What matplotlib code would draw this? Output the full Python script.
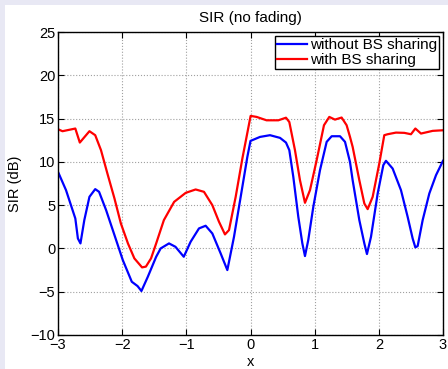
import matplotlib
matplotlib.use("Agg")
import matplotlib.pyplot as plt
from matplotlib.patches import Rectangle

plt.rcParams['font.family'] = ['Liberation Sans', 'DejaVu Sans']

x_without = [-3.00, -2.875, -2.73, -2.69, -2.65, -2.59, -2.51, -2.42, -2.36, -2.25,
             -2.12, -1.99, -1.85, -1.76, -1.70, -1.60, -1.47, -1.40, -1.27, -1.17,
             -1.04, -0.933, -0.803, -0.699, -0.595, -0.465, -0.361, -0.257, -0.153, -0.049,
             0.00, 0.148, 0.304, 0.46, 0.553, 0.605, 0.667, 0.745, 0.808, 0.849,
             0.90, 0.979, 1.083, 1.187, 1.265, 1.395, 1.473, 1.55, 1.592, 1.696,
             1.774, 1.815, 1.878, 1.982, 2.07, 2.111, 2.215, 2.345, 2.449, 2.527,
             2.569, 2.605, 2.683, 2.787, 2.891, 3.00]
y_without = [8.85, 6.73, 3.46, 1.15, 0.58, 3.27, 5.96, 6.85, 6.54, 4.42,
             1.54, -1.35, -3.85, -4.35, -4.92, -3.27, -0.96, 0.0, 0.58, 0.19,
             -0.96, 0.77, 2.31, 2.62, 1.73, -0.58, -2.5, 1.35, 5.96, 10.58,
             12.42, 12.88, 13.08, 12.77, 12.23, 11.35, 8.27, 3.65, 0.58, -0.88,
             0.96, 4.81, 9.04, 12.31, 12.96, 12.96, 12.31, 10.0, 7.88, 3.27,
             0.58, -0.65, 1.35, 6.35, 9.62, 10.12, 9.23, 6.73, 3.65, 1.15,
             0.12, 0.27, 3.27, 6.35, 8.46, 10.12]

x_with = [-3.00, -2.93, -2.73, -2.66, -2.51, -2.42, -2.33, -2.23, -2.12, -2.02,
          -1.91, -1.81, -1.69, -1.63, -1.55, -1.47, -1.35, -1.19, -1.01, -0.855,
          -0.725, -0.595, -0.491, -0.398, -0.335, -0.231, -0.127, 0.002, 0.096, 0.25,
          0.434, 0.553, 0.605, 0.693, 0.771, 0.849, 0.927, 1.031, 1.145, 1.228,
          1.316, 1.42, 1.498, 1.55, 1.592, 1.696, 1.774, 1.826, 1.904, 2.007,
          2.085, 2.137, 2.267, 2.397, 2.501, 2.569, 2.657, 2.839, 3.00]
y_with = [13.77, 13.54, 13.85, 12.23, 13.54, 13.08, 11.35, 8.65, 5.77, 2.88,
          0.58, -1.15, -2.19, -2.1, -1.15, 0.58, 3.27, 5.38, 6.42, 6.81,
          6.54, 5.0, 3.08, 1.62, 2.12, 5.96, 10.38, 15.31, 15.19, 14.8,
          14.8, 15.1, 14.6, 11.35, 7.88, 5.27, 6.73, 10.19, 14.23, 15.19,
          14.88, 15.12, 14.23, 12.9, 11.73, 7.88, 5.19, 4.54, 5.96, 9.81,
          13.08, 13.19, 13.38, 13.35, 13.19, 13.85, 13.27, 13.58, 13.65]

x_ticks = [-3, -2, -1, 0, 1, 2, 3]
y_ticks = [-10, -5, 0, 5, 10, 15, 20, 25]

fig = plt.figure(figsize=(4.48, 3.69), dpi=100, facecolor='#e8e8f4')
fig.patches.append(Rectangle((5/448, 0), 1, 1 - 5/369, transform=fig.transFigure,
                             facecolor='white', edgecolor='none', zorder=-1))
ax = fig.add_axes([58/448, 34/369, 385/448, 303/369])

ax.plot(x_without, y_without, color='#0000ff', lw=1.6, label='without BS sharing')
ax.plot(x_with, y_with, color='#ff0000', lw=1.6, label='with BS sharing')

ax.set_xlim(-3, 3)
ax.set_ylim(-10, 25)
ax.set_xticks(x_ticks)
ax.set_yticks(y_ticks)
ax.set_xticklabels(['\u2212%d' % -t if t < 0 else str(t) for t in x_ticks])
ax.set_yticklabels(['\u2212%d' % -t if t < 0 else str(t) for t in y_ticks])
ax.tick_params(direction='in', length=4, width=0.8, top=True, right=True,
               labelsize=10.5, pad=2, colors='black')
ax.grid(True, linestyle=':', color='#a0a0a0', linewidth=0.8)
for s in ax.spines.values():
    s.set_linewidth(1.0)
    s.set_color('black')

ax.set_title('SIR (no fading)', fontsize=11, pad=7)
ax.set_xlabel('x', fontsize=10.5, labelpad=2)
ax.set_ylabel('SIR (dB)', fontsize=10.5, labelpad=6)

leg = ax.legend(loc='upper right', fontsize=11, frameon=True, fancybox=False,
                edgecolor='black', framealpha=1, handlelength=2.0, handletextpad=0.15,
                borderpad=0.15, labelspacing=0.05, borderaxespad=0.25)
leg.get_frame().set_linewidth(1.0)

fig.savefig('out.png', dpi=100, facecolor=fig.get_facecolor())
